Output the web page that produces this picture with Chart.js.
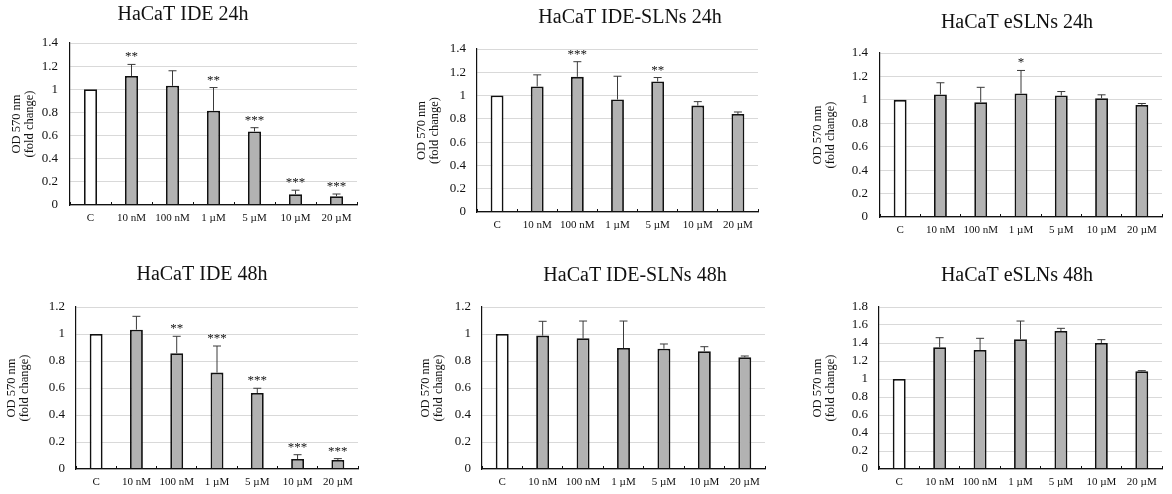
<!DOCTYPE html>
<html><head><meta charset="utf-8">
<script src="https://cdn.jsdelivr.net/npm/chart.js@4.4.0/dist/chart.umd.min.js"></script>
<style>
html,body{margin:0;padding:0;background:#fff;}
body{width:1172px;height:494px;position:relative;overflow:hidden;}
.panel{position:absolute;}
</style></head><body>
<script>
// ---------- data ----------
const categories = ['C', '10 nM', '100 nM', '1 µM', '5 µM', '10 µM', '20 µM'];
const panelTitles = ['HaCaT IDE 24h', 'HaCaT IDE-SLNs 24h', 'HaCaT eSLNs 24h', 'HaCaT IDE 48h', 'HaCaT IDE-SLNs 48h', 'HaCaT eSLNs 48h'];
const yAxisTitle = ['OD 570 nm', '(fold change)'];
const yMaxValues = [1.4, 1.4, 1.4, 1.2, 1.2, 1.8];
const yStep = 0.2;

const ide24Mean = [1, 1.115, 1.03, 0.815, 0.636, 0.093, 0.075];
const ide24Err = [0, 0.10, 0.13, 0.20, 0.032, 0.035, 0.02];
const ide24Stars = ['', '**', '', '**', '***', '***', '***'];

const ideSln24Mean = [1, 1.078, 1.161, 0.966, 1.121, 0.914, 0.842];
const ideSln24Err = [0, 0.10, 0.13, 0.20, 0.034, 0.034, 0.017];
const ideSln24Stars = ['', '', '***', '', '**', '', ''];

const eSln24Mean = [1, 1.046, 0.98, 1.054, 1.037, 1.014, 0.957];
const eSln24Err = [0, 0.10, 0.127, 0.197, 0.034, 0.029, 0.012];
const eSln24Stars = ['', '', '', '*', '', '', ''];

const ide48Mean = [1, 1.032, 0.857, 0.714, 0.563, 0.074, 0.067];
const ide48Err = [0, 0.099, 0.126, 0.197, 0.035, 0.032, 0.01];
const ide48Stars = ['', '', '**', '***', '***', '***', '***'];

const ideSln48Mean = [1, 0.988, 0.968, 0.896, 0.891, 0.872, 0.827];
const ideSln48Err = [0, 0.106, 0.128, 0.20, 0.035, 0.034, 0.01];
const ideSln48Stars = ['', '', '', '', '', '', ''];

const eSln48Mean = [1, 1.352, 1.322, 1.441, 1.533, 1.40, 1.085];
const eSln48Err = [0, 0.107, 0.13, 0.203, 0.03, 0.037, 0.008];
const eSln48Stars = ['', '', '', '', '', '', ''];

const seriesMeans = [ide24Mean, ideSln24Mean, eSln24Mean, ide48Mean, ideSln48Mean, eSln48Mean];
const seriesErrs = [ide24Err, ideSln24Err, eSln24Err, ide48Err, ideSln48Err, eSln48Err];
const seriesStars = [ide24Stars, ideSln24Stars, eSln24Stars, ide48Stars, ideSln48Stars, eSln48Stars];

// ---------- layout (positions / sizes) ----------
const layouts = [
  {left:0,   top:0,   w:390, h:247, pl:0,  pt:43, pr:33, pb:17, yW:70, yTP:10, tickPad:12, tx:183,  ty:14.5},
  {left:390, top:0,   w:390, h:247, pl:20, pt:49, pr:22, pb:10, yW:67, yTP:5,  tickPad:11, tx:240,  ty:17.5},
  {left:780, top:0,   w:392, h:247, pl:20, pt:53, pr:10, pb:5,  yW:80, yTP:11, tickPad:12, tx:237,  ty:22.5},
  {left:0,   top:247, w:390, h:247, pl:0,  pt:60, pr:32, pb:0,  yW:76, yTP:5,  tickPad:11, tx:202,  ty:28},
  {left:390, top:247, w:390, h:247, pl:20, pt:60, pr:15, pb:0,  yW:72, yTP:9,  tickPad:11, tx:245,  ty:28.5},
  {left:780, top:247, w:392, h:247, pl:20, pt:60, pr:10, pb:0,  yW:79, yTP:11, tickPad:11, tx:237,  ty:28.5}
];

const SERIF = '"Liberation Serif", "DejaVu Serif", serif';

const errorBarPlugin = {
  id: 'errorBars',
  afterDatasetsDraw(chart) {
    const ctx = chart.ctx;
    const meta = chart.getDatasetMeta(0);
    const ys = chart.scales.y;
    const ds = chart.data.datasets[0];
    ctx.save();
    meta.data.forEach((bar, i) => {
      const m = ds.data[i], e = ds.errors[i];
      const top = ys.getPixelForValue(m + e);
      if (e > 0) {
        ctx.strokeStyle = '#3a3a3a';
        ctx.lineWidth = 1;
        ctx.beginPath();
        ctx.moveTo(bar.x, bar.y);
        ctx.lineTo(bar.x, top);
        ctx.moveTo(bar.x - 4, top);
        ctx.lineTo(bar.x + 4, top);
        ctx.stroke();
      }
      const s = ds.stars[i];
      if (s) {
        ctx.fillStyle = '#111';
        ctx.font = '13px ' + SERIF;
        ctx.textAlign = 'center';
        ctx.textBaseline = 'alphabetic';
        ctx.fillText(s, bar.x, top - 4);
      }
    });
    ctx.restore();
  }
};

const panelTitlePlugin = {
  id: 'panelTitle',
  afterDraw(chart, args, opts) {
    const ctx = chart.ctx;
    ctx.save();
    ctx.fillStyle = '#111';
    ctx.font = '20px ' + SERIF;
    ctx.textAlign = 'center';
    ctx.textBaseline = 'middle';
    ctx.fillText(opts.text, opts.x, opts.y);
    ctx.restore();
  }
};

layouts.forEach((L, p) => {
  const div = document.createElement('div');
  div.className = 'panel';
  div.style.left = L.left + 'px';
  div.style.top = L.top + 'px';
  div.style.width = L.w + 'px';
  div.style.height = L.h + 'px';
  const cv = document.createElement('canvas');
  cv.width = L.w; cv.height = L.h;
  cv.style.width = L.w + 'px'; cv.style.height = L.h + 'px';
  div.appendChild(cv);
  document.body.appendChild(div);

  new Chart(cv, {
    type: 'bar',
    data: {
      labels: categories,
      datasets: [{
        data: seriesMeans[p],
        errors: seriesErrs[p],
        stars: seriesStars[p],
        backgroundColor: categories.map((c, i) => i === 0 ? '#ffffff' : '#b2b2b2'),
        borderColor: '#111',
        borderWidth: 1.8,
        categoryPercentage: 1,
        barPercentage: 0.32
      }]
    },
    options: {
      responsive: false,
      animation: false,
      devicePixelRatio: 1,
      layout: {padding: {left: L.pl, top: L.pt, right: L.pr, bottom: L.pb}},
      plugins: {
        legend: {display: false},
        tooltip: {enabled: false},
        title: {display: false},
        panelTitle: {text: panelTitles[p], x: L.tx, y: L.ty}
      },
      scales: {
        x: {
          offset: true,
          grid: {display: true, drawOnChartArea: false, drawTicks: true, tickLength: -3, color: '#111', lineWidth: 1, offset: true},
          border: {display: true, color: '#111', width: 1.2, z: 1},
          ticks: {padding: 10, color: '#111', font: {family: SERIF, size: 11}, maxRotation: 0, autoSkip: false},
          afterFit(scale) { scale.height = 25; }
        },
        y: {
          min: 0,
          max: yMaxValues[p],
          ticks: {
            stepSize: yStep, autoSkip: false, padding: L.tickPad, color: '#111',
            font: {family: SERIF, size: 13},
            callback: (v) => String(Number(v.toFixed(1)))
          },
          grid: {drawTicks: false, color: '#d9d9d9', lineWidth: 1},
          border: {display: true, color: '#111', width: 1.2, z: 1},
          title: {display: true, text: yAxisTitle, color: '#111', font: {family: SERIF, size: 12.5, lineHeight: 1.05}, padding: {top: L.yTP, bottom: 0}},
          afterFit(scale) { scale.width = L.yW; }
        }
      }
    },
    plugins: [errorBarPlugin, panelTitlePlugin]
  });
});
</script>
</body></html>
